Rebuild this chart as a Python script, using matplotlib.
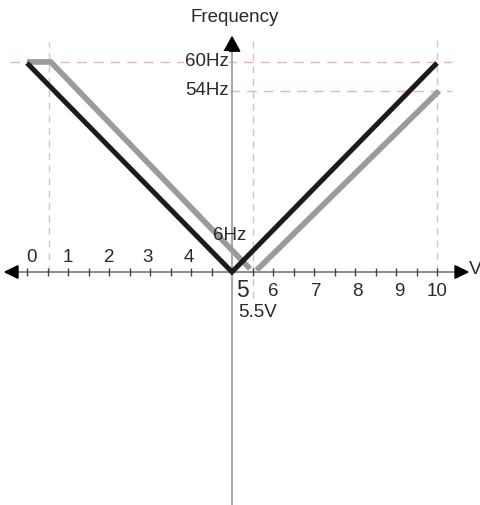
import numpy as np
import matplotlib.pyplot as plt
from matplotlib.patches import Polygon

plt.rcParams['font.family'] = ['Liberation Sans', 'DejaVu Sans']

# --- data (volts, Hz) ---
black_v = [0.0, 5.0, 10.0]
black_hz = [60.0, 0.0, 60.0]
gray_left_v = [0.0, 0.58, 5.44]
gray_left_hz = [60.3, 60.3, 0.9]
gray_right_v = [5.6, 10.05]
gray_right_hz = [0.5, 52.0]

tick_v = [t / 2 for t in range(21) if t != 10]
labels_above = ['0', '1', '2', '3', '4']
labels_above_v = [0.1, 1.0, 2.0, 2.95, 3.95]
labels_below = ['6', '7', '8', '9', '10']
labels_below_v = [6.0, 7.05, 8.05, 9.07, 10.0]
freq_levels = [60.3, 52.0]
freq_labels = ['60Hz', '54Hz']
guide_v = [0.54, 5.51, 10.0]

INK = '#2a2a2a'
LINE_DARK = '#1c1a1a'
LINE_GRAY = '#9b9b9b'
PINK = '#f0b0c4'
GUIDE = '#c8c8c8'

fig = plt.figure(figsize=(4.81, 5.06), dpi=100, facecolor='white')
ax = fig.add_axes([0, 0, 1, 1])
ax.set_xlim(-27 / 41, (481 - 27) / 41)
ax.set_ylim((273 - 506) / 3.483, 273 / 3.483)
ax.axis('off')

# guide lines
ax.hlines(freq_levels[0], -0.42, 10.37, colors=PINK, lw=1, linestyles=(0, (7, 5)), zorder=1)
ax.hlines(freq_levels[1], 4.95, 10.37, colors=PINK, lw=1, linestyles=(0, (7, 5)), zorder=1)
ax.vlines(guide_v[0], 0, 66, colors=GUIDE, lw=1, linestyles=(0, (5, 4)), zorder=1)
ax.vlines(guide_v[1], -7.5, 67.5, colors=GUIDE, lw=1, linestyles=(0, (5, 4)), zorder=1)
ax.vlines(guide_v[2], 0, 68, colors=GUIDE, lw=1, linestyles=(0, (5, 4)), zorder=1)

# axes
ax.hlines(0, -0.22, 10.44, colors='#6e6e6e', lw=1.1, zorder=2)
ax.vlines(5.0, -66.9, 63.5, colors='#a0a0a0', lw=1.3, zorder=2)
ax.vlines(tick_v, -1.2, 1.2, colors='#444444', lw=1, zorder=2)
ax.add_patch(Polygon([(-0.537, 0), (-0.22, 1.8), (-0.22, -1.8)], closed=True,
                     color='black', zorder=3))
ax.add_patch(Polygon([(10.756, 0), (10.44, 1.8), (10.44, -1.8)], closed=True,
                     color='black', zorder=3))
ax.add_patch(Polygon([(5.0, 67.5), (4.81, 63.4), (5.19, 63.4)], closed=True,
                     color='black', zorder=3))

# curves
ax.plot(gray_left_v, gray_left_hz, color=LINE_GRAY, lw=4.1, solid_capstyle='butt',
        solid_joinstyle='miter', zorder=4)
ax.plot(gray_right_v, gray_right_hz, color=LINE_GRAY, lw=4.1, solid_capstyle='butt', zorder=4)
ax.plot(black_v, black_hz, color=LINE_DARK, lw=3.6, solid_capstyle='butt',
        solid_joinstyle='miter', zorder=5)

# text
fs = 13.5
for lab, v in zip(labels_above, labels_above_v):
    ax.text(v, 4.5, lab, ha='center', va='center', fontsize=fs, color=INK)
for lab, v in zip(labels_below, labels_below_v):
    ax.text(v, -5.2, lab, ha='center', va='center', fontsize=fs, color=INK)
ax.text(5.25, -5.0, '5', ha='center', va='center', fontsize=16.5, color=INK)
ax.text(5.62, -11.2, '5.5V', ha='center', va='center', fontsize=fs, color=INK)
ax.text(5.07, 73.3, 'Frequency', ha='center', va='center', fontsize=fs, color=INK)
for lab, hz in zip(freq_labels, freq_levels):
    ax.text(4.92, hz + 0.5, lab, ha='right', va='center', fontsize=fs, color=INK,
            bbox=dict(facecolor='white', edgecolor='none', pad=0.5), zorder=3)
ax.text(4.95, 10.9, '6Hz', ha='center', va='center', fontsize=fs, color=INK, zorder=6)
ax.text(10.77, 0.9, 'V', ha='left', va='center', fontsize=14, color=INK)

fig.savefig('out.png', dpi=100, facecolor='white')
